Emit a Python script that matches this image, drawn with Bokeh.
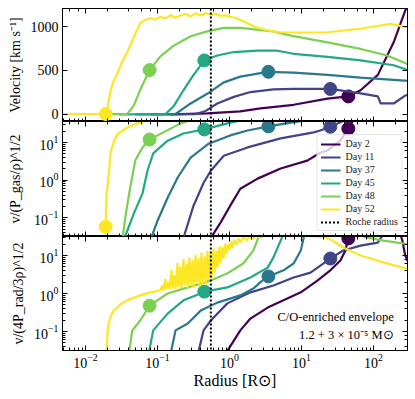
import numpy as np
from bokeh.plotting import figure
from bokeh.layouts import column
from bokeh.models import (Range1d, LogAxis, LinearAxis, FixedTicker,
                          Legend, LegendItem, Label)
from bokeh.embed import file_html
from bokeh.resources import INLINE

FONT = "Liberation Serif"

days = ["Day 2", "Day 11", "Day 37", "Day 45", "Day 48", "Day 52"]
colors = ["#440154", "#414487", "#2a788e", "#22a884", "#7ad151", "#fde725"]
roche_radius = 0.55

# marker positions (log10 radius) and values in each panel
marker_lgr = [1.65, 1.40, 0.54, -0.35, -1.11, -1.72]
marker_vel = [205, 290, 485, 615, 505, 5]
marker_lg_gas = [1.37, 1.42, 1.43, 1.35, 1.08, -1.24]
marker_lg_rad = [1.45, 0.92, 0.45, 0.05, -0.32, -2.5]

# ---- top panel: velocity [km/s] vs log10 radius
vel_lgr_d2 = [-0.82, -0.31, 0.15, 0.43, 0.89, 1.36, 1.65, 1.82, 2.06, 2.28, 2.44, 2.51]
vel_d2 = [2, 13, 35, 70, 110, 180, 205, 275, 450, 820, 1180, 1300]
vel_lgr_d11 = [-1.10, -0.47, -0.33, -0.17, 0.06, 0.29, 0.61, 0.89, 1.40, 1.82, 2.06, 2.10, 2.28, 2.44, 2.51]
vel_d11 = [2, 5, 40, 125, 200, 255, 285, 290, 290, 240, 205, 125, 125, 215, 230]
vel_lgr_d37 = [-1.31, -0.75, -0.54, -0.31, -0.08, 0.15, 0.39, 0.54, 0.89, 1.36, 1.82, 2.51]
vel_d37 = [2, 5, 125, 235, 365, 430, 465, 485, 475, 450, 420, 380]
vel_lgr_d45 = [-1.54, -0.89, -0.78, -0.64, -0.50, -0.35, -0.17, 0.06, 0.39, 0.67, 0.89, 1.36, 1.82, 2.28, 2.51]
vel_d45 = [2, 5, 90, 275, 450, 615, 670, 710, 725, 725, 690, 655, 615, 560, 495]
vel_lgr_d48 = [-1.65, -1.42, -1.33, -1.24, -1.11, -0.96, -0.78, -0.54, -0.31, -0.08, 0.15, 0.61, 0.89, 1.36, 1.82, 2.19, 2.51]
vel_d48 = [3, 5, 100, 280, 505, 660, 780, 890, 945, 985, 985, 945, 890, 820, 745, 670, 560]
vel_lgr_d52 = [-2.35, -1.72, -1.69, -1.65, -1.61, -1.56, -1.49, -1.42, -1.33, -1.24,
               -1.17, -1.10, -1.03, -0.96, -0.89, -0.82, -0.75, -0.68, -0.61, -0.54,
               -0.47, -0.40, -0.33, -0.26, -0.19, -0.125, -0.06, 0.01, 0.08, 0.15,
               0.22, 0.29, 0.36, 0.43, 0.57, 0.71, 0.99, 1.36, 1.82, 2.24, 2.44, 2.51]
vel_d52 = [5, 5, 100, 280, 380, 460, 600, 710, 880, 1040,
           1075, 1095, 1080, 1110, 1090, 1130, 1100, 1125, 1145, 1115,
           1150, 1125, 1155, 1130, 1145, 1120, 1130, 1110, 1100, 1075,
           1050, 1020, 995, 975, 950, 935, 930, 935, 975, 1030, 995, 990]

# ---- middle panel: log10 v/(P_gas/rho)^1/2
gas_lgr_d2 = [-0.28, -0.125, 0.01, 0.15, 0.39, 0.71, 1.08, 1.26, 1.36, 1.54, 1.65, 1.75]
gas_lg_d2 = [-1.6, -1.13, -0.68, -0.23, 0.04, 0.31, 0.52, 0.73, 0.79, 1.05, 1.37, 1.7]
gas_lgr_d11 = [-0.65, -0.50, -0.36, -0.26, -0.08, 0.25, 0.71, 1.17, 1.26, 1.40, 1.61]
gas_lg_d11 = [-1.6, -0.68, -0.07, 0.25, 0.65, 0.87, 1.11, 1.27, 1.32, 1.42, 1.6]
gas_lgr_d37 = [-1.10, -1.00, -0.86, -0.72, -0.54, -0.29, 0.01, 0.25, 0.54, 0.85, 1.26]
gas_lg_d37 = [-1.6, -1.08, -0.47, 0.07, 0.6, 0.97, 1.19, 1.32, 1.43, 1.53, 1.65]
gas_lgr_d45 = [-1.47, -1.33, -1.21, -1.14, -1.06, -0.86, -0.64, -0.35, 0.01, 0.43]
gas_lg_d45 = [-1.6, -0.89, -0.36, 0.25, 0.71, 1.05, 1.24, 1.35, 1.53, 1.7]
gas_lgr_d48 = [-1.49, -1.44, -1.38, -1.31, -1.21, -1.11, -0.92, -0.68, -0.40]
gas_lg_d48 = [-1.6, -0.89, -0.2, 0.52, 0.87, 1.08, 1.27, 1.51, 1.7]
gas_lgr_d52 = [-1.72, -1.71, -1.69, -1.65, -1.61, -1.56, -1.42, -1.28, -1.10]
gas_lg_d52 = [-1.24, -0.4, -0.1, 0.75, 1.0, 1.22, 1.4, 1.51, 1.62]

# ---- bottom panel: log10 v/(4 P_rad/3 rho)^1/2
rad_lgr_d2 = [-0.06, 0.15, 0.29, 0.53, 0.75, 0.99, 1.22, 1.40, 1.54, 1.61, 1.64, 1.65, 1.71, 2.35, 2.40, 2.44, 2.51]
rad_lg_d2 = [-1.6, -0.97, -0.66, -0.37, -0.18, 0.03, 0.34, 0.61, 0.87, 1.13, 1.39, 1.45, 1.7, 1.7, 1.4, 1.0, 0.7]
rad_lgr_d11 = [-0.44, -0.36, -0.26, -0.03, 0.29, 0.61, 0.89, 1.125, 1.40, 1.58, 1.82, 2.06, 2.125, 2.17]
rad_lg_d11 = [-1.6, -0.97, -0.71, -0.26, 0.03, 0.21, 0.42, 0.55, 0.92, 1.13, 1.26, 1.34, 1.53, 1.7]
rad_lgr_d37 = [-0.82, -0.75, -0.58, -0.40, -0.17, 0.15, 0.33, 0.43, 0.54, 0.75, 0.89, 0.99, 1.03, 1.07]
rad_lg_d37 = [-1.6, -0.97, -0.79, -0.45, -0.24, -0.05, 0.13, 0.3, 0.45, 0.61, 0.79, 1.13, 1.47, 1.7]
rad_lgr_d45 = [-1.125, -1.06, -0.86, -0.64, -0.40, -0.35, -0.03, 0.29, 0.53, 0.61, 0.71, 0.78]
rad_lg_d45 = [-1.6, -0.97, -0.53, -0.18, 0.0, 0.05, 0.16, 0.42, 0.68, 0.95, 1.39, 1.7]
rad_lgr_d48 = [-1.40, -1.35, -1.24, -1.11, -0.86, -0.58, -0.26, -0.03, 0.19, 0.33, 0.40, 0.46,
               0.99, 1.40, 1.82, 1.92, 2.14, 2.44, 2.51]
rad_lg_d48 = [-1.6, -0.97, -0.71, -0.32, 0.0, 0.16, 0.34, 0.53, 0.79, 1.13, 1.47, 1.7,
              1.75, 1.65, 1.52, 1.47, 1.39, 1.31, 1.29]
rad_lgr_d52 = [-1.71, -1.69, -1.65, -1.61, -1.51, -1.42, -1.24, -1.10, -0.99,
               -0.958, -0.931, -0.917, -0.889, -0.875, -0.847, -0.833, -0.806, -0.792, -0.764,
               -0.750, -0.722, -0.708, -0.681, -0.667, -0.639, -0.625, -0.597, -0.583, -0.556,
               -0.542, -0.514, -0.500, -0.472, -0.458, -0.431, -0.417, -0.389, -0.375, -0.347,
               -0.333, -0.306, -0.292, -0.264, -0.250, -0.222, -0.208, -0.181, -0.167, -0.139,
               -0.125, -0.097, -0.083, -0.056, -0.042, -0.014, 0.0, 0.028, 0.042, 0.069,
               0.097, 0.125, 0.153, 0.194, 0.236, 0.278, 0.319, 0.375, 0.431, 0.5,
               0.569, 0.708, 0.986, 1.194, 1.36, 1.58, 1.82, 2.14, 2.44, 2.51]
rad_lg_d52 = [-1.6, -0.89, -0.6, -0.45, -0.28, -0.18, -0.05, 0.03, 0.07,
              0.10, 0.22, 0.08, 0.38, 0.12, 0.30, 0.10, 0.62, 0.13, 0.48,
              0.12, 0.80, 0.18, 0.70, 0.14, 0.90, 0.22, 0.78, 0.15, 0.95,
              0.20, 0.88, 0.16, 1.02, 0.30, 0.92, 0.18, 1.08, 0.25, 0.98,
              0.22, 1.12, 0.35, 1.05, 0.40, 1.18, 0.55, 1.12, 0.68, 1.25,
              0.80, 1.22, 0.92, 1.32, 1.05, 1.30, 1.15, 1.38, 1.20, 1.42,
              1.28, 1.45, 1.35, 1.48, 1.40, 1.50, 1.44, 1.52, 1.47, 1.53,
              1.50, 1.53, 1.53, 1.50, 1.47, 1.21, 1.00, 0.82, 0.66, 0.63]

vel_curves = [(vel_lgr_d2, vel_d2), (vel_lgr_d11, vel_d11), (vel_lgr_d37, vel_d37),
              (vel_lgr_d45, vel_d45), (vel_lgr_d48, vel_d48), (vel_lgr_d52, vel_d52)]
gas_curves = [(gas_lgr_d2, gas_lg_d2), (gas_lgr_d11, gas_lg_d11), (gas_lgr_d37, gas_lg_d37),
              (gas_lgr_d45, gas_lg_d45), (gas_lgr_d48, gas_lg_d48), (gas_lgr_d52, gas_lg_d52)]
rad_curves = [(rad_lgr_d2, rad_lg_d2), (rad_lgr_d11, rad_lg_d11), (rad_lgr_d37, rad_lg_d37),
              (rad_lgr_d45, rad_lg_d45), (rad_lgr_d48, rad_lg_d48), (rad_lgr_d52, rad_lg_d52)]

XR = (10 ** -2.32, 10 ** 2.472)
FW = 345


def style_axis(ax, labels=True):
    ax.major_tick_in = 5
    ax.major_tick_out = 0
    ax.minor_tick_in = 3
    ax.minor_tick_out = 0
    ax.axis_line_color = "black"
    ax.major_tick_line_color = "black"
    ax.minor_tick_line_color = "black"
    if labels:
        ax.major_label_text_font = FONT
        ax.major_label_text_font_size = "14px"
        ax.major_label_text_color = "black"
        ax.major_label_standoff = 4
        ax.axis_label_text_font = FONT
        ax.axis_label_text_font_style = "normal"
        ax.axis_label_text_color = "black"
    else:
        ax.major_label_text_font_size = "1px"
        ax.major_label_text_alpha = 0
        ax.major_label_standoff = 0


def make_fig(y_type, y_range, frame_h, border_top, border_bottom):
    p = figure(x_axis_type="log", y_axis_type=y_type,
               x_range=Range1d(*XR), y_range=Range1d(*y_range),
               frame_width=FW, frame_height=frame_h,
               min_border_left=62, min_border_right=8,
               min_border_top=border_top, min_border_bottom=border_bottom,
               output_backend="svg", toolbar_location=None)
    p.xgrid.visible = False
    p.ygrid.visible = False
    p.outline_line_color = "black"
    p.outline_line_width = 1
    p.background_fill_color = "white"
    p.border_fill_color = "white"
    return p


# top panel
p1 = make_fig("linear", (-80, 1205), 113, 8, 0)
p1.yaxis.ticker = FixedTicker(ticks=[0, 500, 1000], minor_ticks=[])
style_axis(p1.yaxis[0])
p1.yaxis.axis_label = "Velocity [km s⁻¹]"
p1.yaxis.axis_label_text_font_size = "14px"
p1.yaxis.axis_label_standoff = 5
p1.yaxis.major_label_text_line_height = 1.0
style_axis(p1.xaxis[0], labels=False)
p1.add_layout(LogAxis(), "above")
style_axis(p1.above[0], labels=False)
p1.add_layout(LinearAxis(ticker=FixedTicker(ticks=[0, 500, 1000], minor_ticks=[])), "right")
style_axis(p1.right[0], labels=False)

# middle panel
p2 = make_fig("log", (10 ** -1.5, 10 ** 1.56), 115, 0, 0)
style_axis(p2.yaxis[0])
p2.yaxis.axis_label = "v/(P_gas/ρ)^1/2"
p2.yaxis.axis_label_text_font_size = "14px"
p2.yaxis.axis_label_standoff = 8
style_axis(p2.xaxis[0], labels=False)
p2.add_layout(LogAxis(), "above")
style_axis(p2.above[0], labels=False)
p2.add_layout(LogAxis(), "right")
style_axis(p2.right[0], labels=False)

# bottom panel
p3 = make_fig("log", (10 ** -1.5, 10 ** 1.5), 114, 0, 49)
style_axis(p3.yaxis[0])
p3.yaxis.axis_label = "v/(4P_rad/3ρ)^1/2"
p3.yaxis.axis_label_text_font_size = "14px"
p3.yaxis.axis_label_standoff = 5
style_axis(p3.xaxis[0])
p3.xaxis.major_label_standoff = 3
p3.xaxis.axis_label = "Radius [R⊙]"
p3.xaxis.axis_label_text_font_size = "16px"
p3.xaxis.axis_label_standoff = 1
p3.add_layout(LogAxis(), "above")
style_axis(p3.above[0], labels=False)
p3.add_layout(LogAxis(), "right")
style_axis(p3.right[0], labels=False)

LW = 2.2
MS = 13
legend_items = []
for i in range(6):
    c = colors[i]
    lgr, v = vel_curves[i]
    p1.line(10 ** np.array(lgr), v, line_color=c, line_width=LW)
    p1.scatter([10 ** marker_lgr[i]], [marker_vel[i]], size=MS, fill_color=c, line_color=c)

    lgr, lg = gas_curves[i]
    r = p2.line(10 ** np.array(lgr), 10 ** np.array(lg), line_color=c, line_width=LW)
    p2.scatter([10 ** marker_lgr[i]], [10 ** marker_lg_gas[i]], size=MS, fill_color=c, line_color=c)
    legend_items.append(LegendItem(label=days[i], renderers=[r]))

    lgr, lg = rad_curves[i]
    p3.line(10 ** np.array(lgr), 10 ** np.array(lg), line_color=c, line_width=LW)
    p3.scatter([10 ** marker_lgr[i]], [10 ** marker_lg_rad[i]], size=MS, fill_color=c, line_color=c)

# Roche radius
p1.line([roche_radius, roche_radius], [-500, 3000], line_color="black", line_width=2, line_dash="2 2")
rr = p2.line([roche_radius, roche_radius], [1e-4, 1e4], line_color="black", line_width=2, line_dash="2 2")
p3.line([roche_radius, roche_radius], [1e-4, 1e4], line_color="black", line_width=2, line_dash="2 2")
legend_items.append(LegendItem(label="Roche radius", renderers=[rr]))

legend = Legend(items=legend_items, location="bottom_right")
legend.label_text_font = FONT
legend.label_text_font_size = "10px"
legend.label_text_color = "#222222"
legend.glyph_width = 20
legend.glyph_height = 10
legend.label_height = 10
legend.label_standoff = 5
legend.spacing = 2
legend.padding = 3
legend.margin = 5
legend.background_fill_alpha = 0.8
legend.border_line_color = "#cccccc"
legend.border_line_width = 1
p2.add_layout(legend)

p3.add_layout(Label(x=10 ** 2.28, y=10 ** -0.63, text="C/O-enriched envelope",
                    text_align="right", text_baseline="middle",
                    text_font=FONT, text_font_size="12.5px", text_color="black"))
p3.add_layout(Label(x=10 ** 2.28, y=10 ** -1.1, text="1.2 + 3 × 10⁻⁵ M⊙",
                    text_align="right", text_baseline="middle",
                    text_font=FONT, text_font_size="12.5px", text_color="black"))

layout = column(p1, p2, p3, spacing=0)
open("out.html", "w").write(file_html(layout, INLINE))
